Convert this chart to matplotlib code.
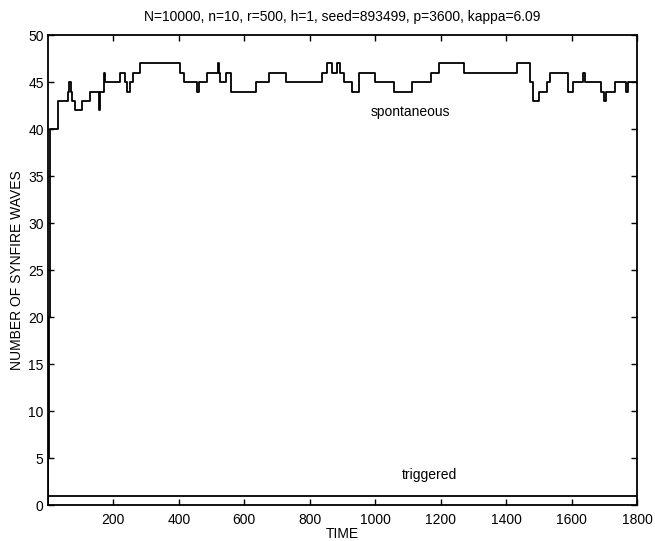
import matplotlib
matplotlib.use("Agg")
import matplotlib.pyplot as plt

plt.rcParams['font.family'] = ['Liberation Sans', 'DejaVu Sans']

# spontaneous synfire waves: change points (time, count), step function
spont_t = [0, 2, 5, 8, 30, 62, 65, 70, 74, 82, 104, 128, 155, 160, 172, 176,
           219, 235, 243, 251, 261, 280, 405, 417, 457, 463, 487, 519, 523,
           527, 543, 558, 636, 675, 726, 836, 853, 869, 884, 892, 904, 930,
           950, 999, 1057, 1113, 1171, 1194, 1271, 1434, 1472, 1480, 1500,
           1523, 1534, 1587, 1604, 1635, 1640, 1689, 1698, 1704, 1731, 1765,
           1772, 1800]
spont_v = [0, 5, 20, 40, 43, 44, 45, 44, 43, 42, 43, 44, 42, 44, 46, 45,
           46, 45, 44, 45, 46, 47, 46, 45, 44, 45, 46, 47, 46,
           45, 46, 44, 45, 46, 45, 46, 47, 46, 47, 46, 45, 44,
           46, 45, 44, 45, 46, 47, 46, 47, 45, 43, 44,
           45, 46, 44, 45, 46, 45, 44, 43, 44, 45, 44,
           45, 45]

# triggered synfire waves
trig_t = [0, 1800]
trig_v = [1, 1]

title = "N=10000, n=10, r=500, h=1, seed=893499, p=3600, kappa=6.09"
xticks = [200, 400, 600, 800, 1000, 1200, 1400, 1600, 1800]
yticks = list(range(0, 51, 5))

fig = plt.figure(figsize=(6.55, 5.41), dpi=100)
ax = fig.add_axes([0.073, 0.0665, 0.900, 0.8685])

ax.plot(spont_t, spont_v, drawstyle='steps-post', color='black', lw=1.3)
ax.plot(trig_t, trig_v, color='black', lw=1.3)

ax.set_xlim(0, 1800)
ax.set_ylim(0, 50)
ax.set_xticks(xticks)
ax.set_yticks(yticks)
ax.tick_params(direction='in', top=True, right=True, length=4, width=1,
               labelsize=10, colors='black')
ax.tick_params(axis='x', pad=6)
ax.tick_params(axis='y', pad=3)
for s in ax.spines.values():
    s.set_linewidth(1.3)

ax.text(1108, 41.8, "spontaneous", ha='center', va='center', fontsize=10)
ax.text(1166, 3.2, "triggered", ha='center', va='center', fontsize=10)

ax.set_title(title, fontsize=10, pad=10)
ax.set_xlabel("TIME", fontsize=10, labelpad=0)
ax.set_ylabel("NUMBER OF SYNFIRE WAVES", fontsize=10, labelpad=3)

fig.savefig("out.png", dpi=100)
